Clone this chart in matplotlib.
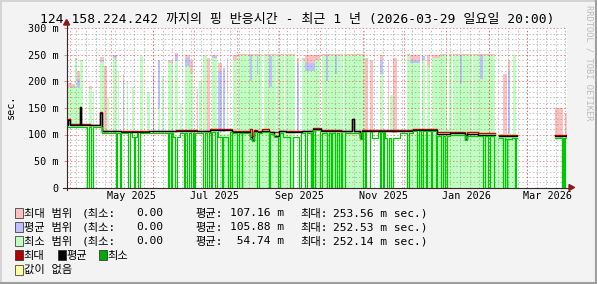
import numpy as np
import matplotlib
matplotlib.use('Agg')
import matplotlib.pyplot as plt
from matplotlib.lines import Line2D
from matplotlib.patches import Rectangle, Polygon
import datetime as dt

W, H = 597, 284
FONT = ['DejaVu Sans Mono', 'Noto Sans CJK KR']
plt.rcParams['font.family'] = FONT
plt.rcParams['lines.scale_dashes'] = False

# ------------------------------------------------------------------ data
title = "124.158.224.242 까지의 핑 반응시간 - 최근 1 년 (2026-03-29 일요일 20:00)"
period_start = dt.datetime(2025, 3, 29, 20, 0)
period_days = 365.0
y_ticks = [0, 50, 100, 150, 200, 250, 300]
y_tick_labels = ["0", "50 m", "100 m", "150 m", "200 m", "250 m", "300 m"]
x_label_dates = ["2025-05-16", "2025-07-16", "2025-09-16", "2025-11-16", "2026-01-16", "2026-03-16"]
x_labels = ["May 2025", "Jul 2025", "Sep 2025", "Nov 2025", "Jan 2026", "Mar 2026"]

nan = float('nan')
# day offsets (from period start) where the lines change level
line_day = [0, 1.0, 2.5, 9.8, 10.5, 17, 24.4, 25.8, 40, 60, 80, 95, 104.7, 121, 134, 135.5,
            137, 139, 143, 148, 151.5, 155, 160, 172, 180, 186, 200, 208.3, 209.8, 214, 215.5,
            235, 253, 270.4, 280, 291, 292, 300, 312.7, 315.6, 328.8, 356.5]
avg_val = [118, 128, 118, 151, 118, 117, 141, 106, 105.5, 106, 106.5, 106, 108.5, 105, 95, 90,
           107, 105, 107, 104, 97, 106, 105, 106, 111, 106.5, 106, 130, 106, 94, 107,
           106.5, 109, 101, 102, 91.5, 101, 100, nan, 98, nan, 97]
max_val = [119.5, 129, 119.5, 151, 119.5, 118.5, 143, 107.5, 107, 107.5, 108, 107.5, 110, 106.5, 111, 97,
           108.5, 106.5, 110, 105.5, 104, 107.5, 106.5, 107.5, 112.5, 108, 107.5, 130, 107.5, 98, 108.5,
           108, 110.5, 104, 104.5, 99, 104, 103, nan, 99.5, nan, 99]
min_val = [115, 115, 115, 115, 115, 114, 114, 103, 102.5, 103, 103.5, 103, 105.5, 102, 92, 88,
           104, 102, 104, 101, 95, 103, 102, 103, 108, 103.5, 103, 103, 103, 92, 104,
           103.5, 106, 98, 99, 89, 98, 97, nan, 94, nan, 94]

# min line drops to zero
drop_start = [15.1, 17.8, 35.8, 39.0, 45.0, 49.2, 52.3, 74.2, 76.0, 79.1, 85.7, 88.1, 90.8, 93.0,
              99.8, 102.3, 105.2, 108.3, 113.6, 118.0, 120.5, 124.2, 127.8, 139.2, 147.5, 154.5,
              163.1, 169.9, 174.0, 178.2, 180.1, 185.0, 190.3, 192.8, 195.9, 199.1, 200.8, 216.6,
              218.5, 228.8, 230.7, 234.1, 237.0, 248.7, 255.5, 258.7, 262.3, 265.8, 269.6, 273.1,
              276.4, 304.2, 307.8, 312.0, 318.8, 321.2, 327.3, 361.8, 363.3]
drop_end = [16.1, 19.1, 37.0, 39.9, 46.3, 50.1, 53.6, 74.8, 76.6, 80.4, 86.6, 89.1, 92.0, 93.6,
            100.8, 103.7, 105.8, 109.6, 114.2, 119.3, 121.1, 125.6, 128.4, 140.7, 148.5, 155.8,
            165.0, 170.9, 175.7, 179.1, 181.3, 186.2, 191.3, 193.9, 197.2, 200.1, 203.2, 217.8,
            221.5, 229.7, 231.7, 235.1, 238.5, 249.7, 257.0, 259.9, 263.3, 266.7, 270.6, 275.0,
            277.5, 305.4, 309.1, 312.9, 319.8, 321.8, 328.0, 362.5, 364.0]
# shallow dips of the min line
dip_start = [47.5, 77.7, 110.5, 158.0, 223.0, 232.4, 320.0]
dip_end = [51.2, 82.8, 119.3, 170.0, 227.3, 243.3, 325.0]
dip_val = [95, 95, 96, 95, 94, 94, 91]

# isolated range columns: start, end, top of min-range / avg-range / max-range (0 = none)
col_start = [1, 4, 6, 7.5, 9.8, 16, 19, 24.5, 27.3, 34, 37.5, 44, 53.6, 59, 66.7, 70, 74, 79,
             86.5, 90, 99.6, 102.5, 106, 110.5, 114, 117, 121.5, 168, 172, 174, 181.5, 218,
             221.5, 229, 234.5, 236, 238, 248.5, 250.5, 259.4, 263, 266.7, 318.5, 322, 326,
             356.5, 363.5, 29.5, 41, 48, 63, 83, 95, 97]
col_end = [4, 6, 7.5, 9.8, 12, 18.5, 20, 27.3, 29.5, 37, 38.3, 45, 56, 61, 68, 71, 77.7, 81.3,
           90, 92.3, 102.5, 104.7, 109.5, 113.4, 115.5, 118, 124.5, 170, 174, 181, 185, 220,
           223.5, 231, 235.3, 238, 241, 250.5, 258, 261.6, 265, 272.6, 321.5, 323.8, 328,
           362.5, 365, 31, 42, 49.5, 64, 84.5, 96, 98.5]
col_min_top = [190, 188, 240, 190, 238, 185, 180, 237, 0, 245, 220, 200, 248, 180, 150, 210, 235, 238,
               230, 215, 250, 0, 245, 0, 0, 180, 240, 0, 240, 220, 240, 0,
               0, 215, 0, 175, 0, 250, 235, 240, 230, 245, 0, 0, 250,
               0, 0, 170, 0, 190, 0, 160, 0, 200]
col_avg_top = [0, 192, 0, 205, 0, 0, 0, 240, 0, 248, 0, 0, 0, 0, 240, 0, 0, 250,
               245, 0, 0, 0, 248, 220, 225, 0, 0, 235, 0, 235, 0, 0,
               0, 240, 0, 0, 0, 0, 240, 248, 0, 0, 0, 220, 0,
               0, 0, 0, 200, 0, 215, 0, 0, 0]
col_max_top = [197, 195, 244, 220, 241, 191, 0, 247, 230, 250, 0, 0, 0, 0, 0, 0, 240, 253,
               250, 240, 0, 245, 250, 235, 0, 245, 250, 245, 245, 250, 250, 245,
               240, 250, 240, 0, 245, 252, 250, 0, 250, 250, 215, 240, 0,
               150, 140, 0, 215, 0, 0, 0, 185, 0]

# dense stretches where the ranges reach ~250 m
dense_start = [125, 186.5, 272.6]
dense_end = [167, 218, 312.7]
dense_min_top = [250, 250, 250]
dense_avg_top = [250, 250, 250]
dense_max_top = [252.5, 252.5, 252.5]
streak_start = [134, 139, 148, 189, 196, 287, 302]
streak_end = [135, 140, 150, 191, 197.5, 289, 304]
streak_min_top = [200, 215, 190, 200, 215, 195, 205]
streak_avg_top = [250, 250, 248, 250, 250, 250, 250]
gap_start = [142.7, 152.5, 158.5, 201.5, 277.7, 281.0, 296.0]
gap_end = [144.0, 153.3, 159.3, 202.3, 279.0, 281.8, 296.8]
# stretches where the min range reaches down to zero
low_start = [112, 177.7, 248.5]
low_end = [165, 216.4, 328.8]

legend_rows = [("최대 범위", "0.00", "107.16 m", "253.56 m sec.)"),
               ("평균 범위", "0.00", "105.88 m", "252.53 m sec.)"),
               ("최소 범위", "0.00", " 54.74 m", "252.14 m sec.)")]

# ------------------------------------------------------------------ style
PINK, BLUE, LGREEN = '#FFC0C0', '#C0C0FF', '#C0FFC0'
RED, BLACK, GREEN, YELLOW = '#CC0000', '#000000', '#00C800', '#FFFFA0'
BG = '#F3F3F3'

fig = plt.figure(figsize=(W / 100, H / 100), dpi=100)
fig.patch.set_facecolor(BG)
L, R, T, B = 66.6, 566.6, 28.5, 187.5
ax = fig.add_axes([L / W, (H - B) / H, (R - L) / W, (B - T) / H])
ax.set_facecolor('white')
ax.set_xlim(0, period_days)
ax.set_ylim(0, 300)
for s in ax.spines.values():
    s.set_visible(False)


def day_of(s):
    return (dt.datetime.fromisoformat(s) - period_start).total_seconds() / 86400.0


def lookup(vals, d):
    i = int(np.searchsorted(line_day, d, side='right')) - 1
    return vals[max(i, 0)]


# areas: max range (pink), avg range (blue), min range (green)
for s, e, top in zip(dense_start, dense_end, dense_max_top):
    ax.bar(s, top - 100, e - s, 100, align='edge', color=PINK, lw=0, zorder=1)
for s, e, p in zip(col_start, col_end, col_max_top):
    b = lookup(min_val, (s + e) / 2)
    if p > 0:
        ax.bar(s, p - b, e - s, b, align='edge', color=PINK, lw=0, zorder=1)
for s, e, top in zip(dense_start, dense_end, dense_avg_top):
    ax.bar(s, top - 100, e - s, 100, align='edge', color=BLUE, lw=0, zorder=2)
for s, e, p in zip(col_start, col_end, col_avg_top):
    b = lookup(min_val, (s + e) / 2)
    if p > 0:
        ax.bar(s, p - b, e - s, b, align='edge', color=BLUE, lw=0, zorder=2)
for s, e, top in zip(dense_start, dense_end, dense_min_top):
    ax.bar(s, top - 100, e - s, 100, align='edge', color=LGREEN, lw=0, zorder=3)
for s, e, p in zip(col_start, col_end, col_min_top):
    b = lookup(min_val, (s + e) / 2)
    if p > 0:
        ax.bar(s, p - b, e - s, b, align='edge', color=LGREEN, lw=0, zorder=3)
for s, e in zip(low_start, low_end):
    ax.bar(s, 101, e - s, 0, align='edge', color=LGREEN, lw=0, zorder=3)
for s, e, g, a in zip(streak_start, streak_end, streak_min_top, streak_avg_top):
    ax.bar(s, a - g, e - s, g, align='edge', color=BLUE, lw=0, zorder=3.2)
for s, e in zip(gap_start, gap_end):
    ax.bar(s, 150, e - s, 110, align='edge', color='white', lw=0, zorder=3.3)

# grid (drawn over the areas, like rrdtool)
GRID = (0.55, 0.55, 0.55, 0.55)
MGRID = (0.93, 0.0, 0.0, 0.45)
dash = (0, (1.0, 1.5))
for v in range(0, 301, 10):
    if v % 50:
        ax.axhline(v, color=GRID, lw=0.72, ls=dash, zorder=4)
for v in range(50, 301, 50):
    ax.axhline(v, color=MGRID, lw=0.72, ls=dash, zorder=4.1)
sun = day_of("2025-03-30")
while sun < period_days:
    ax.axvline(sun, color=GRID, lw=0.72, ls=dash, zorder=4)
    sun += 7
month_starts = []
y_, m_ = 2025, 4
while True:
    d = day_of(f"{y_}-{m_:02d}-01")
    if d > period_days:
        break
    month_starts.append(d)
    m_ += 1
    if m_ > 12:
        y_, m_ = y_ + 1, 1
for d in month_starts:
    ax.axvline(d, color=MGRID, lw=0.72, ls=dash, zorder=4.1)
    ax.plot([d, d], [0, -1.6], color=MGRID, lw=0.72, clip_on=False, zorder=4.1)

# lines
xs = list(line_day) + [period_days]
ax.step(xs, list(max_val) + [max_val[-1]], where='post', color=RED, lw=1.0, zorder=5)
ax.step(xs, list(avg_val) + [avg_val[-1]], where='post', color=BLACK, lw=1.0, zorder=6)

bps = sorted(set(list(line_day) + drop_start + drop_end + dip_start + dip_end + [period_days]))
mins = []
for b in bps[:-1]:
    mid = b + 1e-6
    v = lookup(min_val, mid)
    if not np.isnan(v):
        for s, e, dv in zip(dip_start, dip_end, dip_val):
            if s <= mid < e:
                v = dv
        for s, e in zip(drop_start, drop_end):
            if s <= mid < e:
                v = 0
    mins.append(v)
mins.append(mins[-1])
ax.step(bps, mins, where='post', color=GREEN, lw=0.9, zorder=7)

# y ticks
ax.set_xticks([])
ax.set_yticks(y_ticks)
ax.set_yticklabels(y_tick_labels, fontsize=7.3)
ax.tick_params(axis='y', length=2.2, width=0.7, color=MGRID, pad=3.6)

# x labels
for ds, lab in zip(x_label_dates, x_labels):
    ax.text(day_of(ds), -6, lab, ha='center', va='top', fontsize=7.3, clip_on=False)


# ------------------------------------------------------------------ frame pieces in pixels
def fx(x):
    return x / W


def fy(y):
    return 1 - y / H


def fline(x0, y0, x1, y1, c, lw):
    fig.add_artist(Line2D([fx(x0), fx(x1)], [fy(y0), fy(y1)], color=c, lw=lw,
                          transform=fig.transFigure, zorder=10))


AXC, ARC = '#3A2626', '#8B1A1A'
fline(63.5, B, 569, B, AXC, 0.8)
fline(L, B + 2.5, L, 24, AXC, 0.8)
fig.add_artist(Polygon([(fx(569), fy(B - 3)), (fx(574.5), fy(B)), (fx(569), fy(B + 3))],
                       closed=True, transform=fig.transFigure, color=ARC, zorder=11))
fig.add_artist(Polygon([(fx(L - 3), fy(25)), (fx(L), fy(19.5)), (fx(L + 3), fy(25))],
                       closed=True, transform=fig.transFigure, color=ARC, zorder=11))

# border
fline(0, 0.5, W, 0.5, '#D4D4D4', 1.4)
fline(0.5, 0, 0.5, H, '#D4D4D4', 1.4)
fline(0, H - 1, W, H - 1, '#9E9E9E', 2.2)
fline(W - 1, 0, W - 1, H, '#9E9E9E', 2.2)

# title & side texts
fig.text(fx(297.5), fy(19), title, ha='center', va='center', fontsize=9.4)
fig.text(fx(11), fy(107), "sec.", rotation=90, ha='center', va='center', fontsize=7.3)
fig.text(fx(589), fy(5), "RRDTOOL / TOBI OETIKER", rotation=270, ha='center', va='top',
         fontsize=6.3, color='#BBBBBB')


# legend
def box(x, y, c):
    fig.add_artist(Rectangle((fx(x), fy(y + 10)), 8 / W, 10 / H, transform=fig.transFigure,
                             facecolor=c, edgecolor='#222222', lw=0.5, zorder=10))


LFS = 8.1
row_y = [213, 227, 241, 255, 269.5]
for (name, mn, av, mx), yc, c in zip(legend_rows, row_y, [PINK, BLUE, LGREEN]):
    box(15, yc - 5, c)
    fig.text(fx(23.5), fy(yc + 0.5), name, ha='left', va='center', fontsize=LFS)
    fig.text(fx(82), fy(yc + 0.5), "(최소:", ha='left', va='center', fontsize=LFS)
    fig.text(fx(163.5), fy(yc + 0.5), mn, ha='right', va='center', fontsize=LFS)
    fig.text(fx(195), fy(yc + 0.5), "평균:", ha='left', va='center', fontsize=LFS)
    fig.text(fx(283.5), fy(yc + 0.5), av, ha='right', va='center', fontsize=LFS)
    fig.text(fx(300), fy(yc + 0.5), "최대:", ha='left', va='center', fontsize=LFS)
    fig.text(fx(333), fy(yc + 0.5), mx, ha='left', va='center', fontsize=LFS)

for x, c, name in [(15, '#B00000', "최대"), (57.5, BLACK, "평균"), (99, '#00AA00', "최소")]:
    box(x, row_y[3] - 5, c)
    fig.text(fx(x + 8.5), fy(row_y[3] + 0.5), name, ha='left', va='center', fontsize=LFS)
box(15, row_y[4] - 5, YELLOW)
fig.text(fx(23.5), fy(row_y[4] + 0.5), "값이 없음", ha='left', va='center', fontsize=LFS)

fig.savefig('out.png', dpi=100, facecolor=BG)
